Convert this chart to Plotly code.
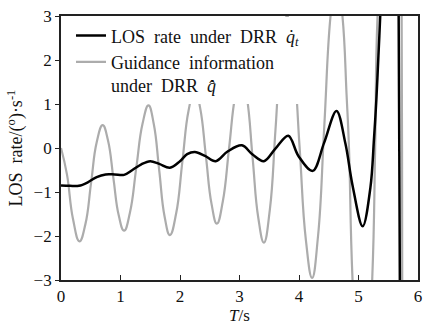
import plotly.graph_objects as go

# ---- data ----
t_los = [0.0, 0.15, 0.30, 0.45, 0.60, 0.75, 0.90, 1.06, 1.20, 1.35, 1.50, 1.65, 1.83,
         2.00, 2.12, 2.25, 2.42, 2.60, 2.80, 3.04, 3.22, 3.41, 3.60, 3.82, 3.99,
         4.23, 4.42, 4.63, 4.78, 4.90, 5.07, 5.20, 5.26, 5.30, 5.335, 5.365, 5.39,
         5.45, 5.55, 5.63, 5.66, 5.675, 5.695, 5.71]
v_los = [-0.85, -0.86, -0.86, -0.78, -0.66, -0.60, -0.60, -0.61, -0.50, -0.37, -0.30,
         -0.36, -0.45, -0.30, -0.14, -0.09, -0.18, -0.30, -0.08, 0.06, -0.15, -0.30,
         -0.02, 0.28, -0.18, -0.52, 0.11, 0.84, 0.10, -0.85, -1.78, -0.90, 0.20,
         1.10, 2.10, 3.00, 4.00, 5.5, 6.0, 5.5, 4.5, 3.0, -3.0, -5.0]

t_gui = [0.0, 0.10, 0.20, 0.31, 0.41, 0.505, 0.60, 0.70, 0.79, 0.88, 0.97, 1.06,
         1.16, 1.265, 1.37, 1.47, 1.56, 1.65, 1.74, 1.83, 1.935, 2.04, 2.145, 2.25,
         2.34, 2.435, 2.53, 2.62, 2.72, 2.825, 2.93, 3.03, 3.125, 3.22, 3.315, 3.41,
         3.51, 3.605, 3.70, 3.80, 3.905, 4.01, 4.115, 4.22, 4.32, 4.425, 4.53, 4.63,
         4.73, 4.80, 4.84, 4.90, 5.07, 5.23, 5.28, 5.32, 5.50, 5.70, 5.725, 5.735, 5.75]
v_gui = [0.0, -0.6, -1.6, -2.12, -1.73, -0.80, 0.13, 0.52, 0.17, -0.68, -1.53, -1.88,
         -1.46, -0.45, 0.55, 0.97, 0.54, -0.50, -1.55, -1.98, -1.49, -0.31, 0.86, 1.35,
         0.90, -0.18, -1.27, -1.72, -1.21, 0.0, 1.20, 1.70, 1.14, -0.22, -1.58, -2.15,
         -1.40, 0.42, 2.25, 3.00, 2.10, 0.02, -2.08, -2.95, -2.00, 0.50, 3.00, 4.00,
         3.00, 1.20, 0.0, -3.0, -7.0, -3.0, 0.0, 3.0, 7.0, 5.0, 3.0, -3.0, -5.0]

x_ticks = [0, 1, 2, 3, 4, 5, 6]
y_ticks = [-3, -2, -1, 0, 1, 2, 3]

name_los = "LOS  rate  under  DRR  <i>q̇</i><sub><i>t</i></sub>"
name_gui = "Guidance  information<br>under  DRR  <i>q̂̇</i>"

serif = "Liberation Serif"

fig = go.Figure()
fig.add_trace(go.Scatter(
    x=t_gui, y=v_gui, mode="lines", name=name_gui,
    line=dict(color="#acacac", width=2.2, shape="spline", smoothing=1.3),
))
fig.add_trace(go.Scatter(
    x=t_los, y=v_los, mode="lines", name=name_los,
    line=dict(color="#000000", width=2.5, shape="spline", smoothing=1.0),
))

fig.update_layout(
    width=428, height=326,
    margin=dict(l=61, r=6, t=16, b=41),
    paper_bgcolor="white", plot_bgcolor="white",
    font=dict(family=serif, size=17, color="#111111"),
    showlegend=True,
    legend=dict(
        x=0.028, y=0.995, xanchor="left", yanchor="top",
        bgcolor="white", borderwidth=0,
        font=dict(family=serif, size=18, color="#111111"),
        traceorder="reversed", valign="top",
        tracegroupgap=0,
    ),
    xaxis=dict(
        range=[0, 6], tickvals=x_ticks, ticktext=[str(v) for v in x_ticks],
        ticks="inside", ticklen=5, tickwidth=1.2, tickcolor="#222",
        showline=True, linecolor="#222", linewidth=1.8, mirror=True,
        showgrid=False, zeroline=False,
        tickfont=dict(family=serif, size=17),
        title=dict(text="<i>T</i>/s", font=dict(family=serif, size=17), standoff=2),
    ),
    yaxis=dict(
        range=[-3, 3], tickvals=y_ticks,
        ticks="outside", ticklen=4, tickwidth=1.2, tickcolor="#222",
        showline=True, linecolor="#222", linewidth=1.8, mirror=True,
        showgrid=False, zeroline=False,
        tickfont=dict(family=serif, size=17),
        title=dict(text="LOS  rate/(<sup>o</sup>)·s<sup>-1</sup>",
                   font=dict(family=serif, size=18), standoff=6),
    ),
)

fig.write_html("out.html")
